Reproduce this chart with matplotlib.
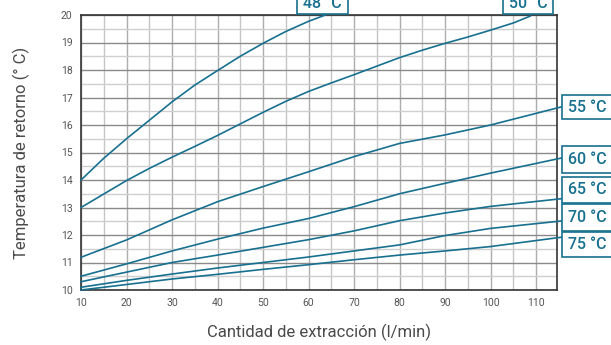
import matplotlib
matplotlib.use("Agg")
import matplotlib.pyplot as plt
from matplotlib.ticker import MultipleLocator
from matplotlib.patches import Rectangle

# ---- data ----
x48 = [10, 15, 20, 25, 30, 35, 40, 45, 50, 55, 60, 63.7]
t48 = [14.0, 14.79, 15.5, 16.17, 16.84, 17.45, 17.98, 18.5, 18.97, 19.4, 19.77, 20.0]
x50 = [10, 20, 25, 30, 35, 40, 45, 50, 55, 60, 65, 70, 75, 80, 85, 90, 95, 100, 105, 108.7]
t50 = [13.0, 13.98, 14.42, 14.83, 15.22, 15.62, 16.04, 16.46, 16.86, 17.22, 17.53, 17.83, 18.14,
       18.45, 18.72, 18.97, 19.2, 19.45, 19.71, 19.96]
x_all = [10, 20, 30, 40, 50, 60, 70, 80, 90, 100, 115.6]
t55 = [11.19, 11.82, 12.55, 13.21, 13.76, 14.3, 14.85, 15.33, 15.64, 16.0, 16.66]
t60 = [10.5, 10.95, 11.42, 11.85, 12.25, 12.6, 13.03, 13.5, 13.88, 14.25, 14.8]
t65 = [10.3, 10.65, 11.0, 11.27, 11.55, 11.83, 12.15, 12.52, 12.8, 13.04, 13.32]
t70 = [10.1, 10.35, 10.58, 10.8, 11.0, 11.2, 11.42, 11.64, 11.98, 12.24, 12.51]
t75 = [10.0, 10.2, 10.4, 10.57, 10.75, 10.92, 11.1, 11.27, 11.42, 11.58, 11.92]
series = [("48", x48, t48), ("50", x50, t50), ("55", x_all, t55), ("60", x_all, t60),
          ("65", x_all, t65), ("70", x_all, t70), ("75", x_all, t75)]
x_ticks = [10, 20, 30, 40, 50, 60, 70, 80, 90, 100, 110]
y_ticks = [10, 11, 12, 13, 14, 15, 16, 17, 18, 19, 20]

col = "#17708f"
W, H = 611, 345
plt.rcParams['font.family'] = ['Roboto', 'DejaVu Sans']

fig = plt.figure(figsize=(W/100, H/100), dpi=100)
ax = fig.add_axes([81/W, 1-290/H, (557-81)/W, (290-15)/H])
ax.set_xlim(10, 114.6)
ax.set_ylim(10, 20)

ax.set_xticks(x_ticks)
ax.set_yticks(y_ticks)
ax.xaxis.set_minor_locator(MultipleLocator(5))
ax.yaxis.set_minor_locator(MultipleLocator(0.5))
ax.grid(which='major', axis='x', color='#adadad', lw=1.0)
ax.grid(which='minor', axis='x', color='#c6c6c6', lw=1.0)
ax.grid(which='major', axis='y', color='#8a8a8a', lw=1.0)
ax.grid(which='minor', axis='y', color='#cfcfcf', lw=1.0)
ax.set_axisbelow(True)
for s in ax.spines.values():
    s.set_color('#333333')
    s.set_linewidth(1.2)
ax.tick_params(which='both', length=0, labelsize=7.5, labelcolor='#555555', pad=6)

for k, xs, ts in series:
    ax.plot(xs, ts, color=col, lw=1.2, clip_on=False, zorder=3)

def fig_box(x0, y0, x1, y1):
    r = Rectangle((x0/W, 1-y1/H), (x1-x0)/W, (y1-y0)/H, transform=fig.transFigure,
                  fc='white', ec=col, lw=1.2, zorder=6, clip_on=False)
    fig.add_artist(r)

tkw = dict(color=col, fontsize=11.5, fontweight='medium', zorder=7)
# top labels (cut by the top edge, as in the reference)
for k, x0, x1 in [("48", 297, 348), ("50", 503, 553)]:
    fig_box(x0, -12, x1, 14)
    fig.text((x0+x1)/2/W, 1-3/H, f"{k} °C", ha='center', va='center', **tkw)
# right labels (cut by the right edge)
for k, y0, y1 in [("55", 95, 119), ("60", 146, 173), ("65", 177, 203),
                  ("70", 204, 231), ("75", 232, 257)]:
    fig_box(562, y0, 630, y1)
    fig.text(568/W, 1-(y0+y1)/2/H, f"{k} °C", ha='left', va='center', **tkw)

ax.set_xlabel("Cantidad de extracción (l/min)", fontsize=12,
              color='#4a4a4a', labelpad=11)
ax.set_ylabel("Temperatura de retorno (° C)", fontsize=12,
              color='#4a4a4a', labelpad=22)

fig.savefig("out.png", dpi=100)
